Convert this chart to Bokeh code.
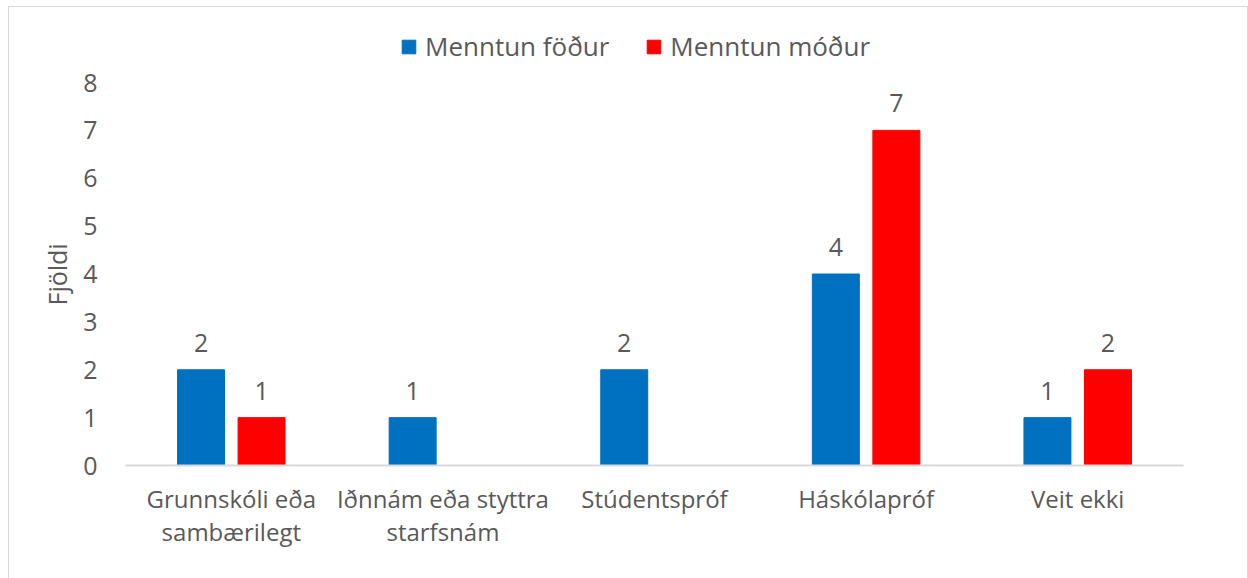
from bokeh.plotting import figure
from bokeh.models import ColumnDataSource, FactorRange, Legend, LegendItem, FixedTicker, Title
from bokeh.transform import dodge
from bokeh.core.properties import value
from bokeh.embed import file_html
from bokeh.resources import INLINE

categories = ["Grunnskóli eða\nsambærilegt", "Iðnnám eða styttra\nstarfsnám",
              "Stúdentspróf", "Háskólapróf", "Veit ekki"]
series_names = ["Menntun föður", "Menntun móður"]
father = [2, 1, 2, 4, 1]
mother = [1, None, None, 7, 2]
y_ticks = [0, 1, 2, 3, 4, 5, 6, 7, 8]
y_title = "Fjöldi"

BLUE = "#0070C0"
RED = "#FF0000"
TXT = "#595959"
FONT = "Open Sans"

# layout (pixels): frame extends above the top tick to hold the legend
PX_PER_UNIT = 47.875
EXTRA_TOP_PX = 62
y_end = 8 + EXTRA_TOP_PX / PX_PER_UNIT

p = figure(x_range=FactorRange(factors=categories, range_padding=0),
           y_range=(0, y_end), width=1238, height=571,
           output_backend="svg", toolbar_location=None,
           min_border_left=116, min_border_right=64,
           min_border_top=13, min_border_bottom=113)
p.styles = {"margin": "7px 0 0 9px", "box-shadow": "0 0 0 1px #D9D9D9"}

def nz(v):
    return float("nan") if v is None else v

src = ColumnDataSource(data=dict(cat=categories,
                                 father=[nz(v) for v in father],
                                 mother=[nz(v) for v in mother]))

off = 0.143
bw = 0.222
r1 = p.vbar(x=dodge("cat", -off, range=p.x_range), top="father", width=bw,
            source=src, fill_color=BLUE, line_color=BLUE)
r2 = p.vbar(x=dodge("cat", off, range=p.x_range), top="mother", width=bw,
            source=src, fill_color=RED, line_color=RED)

# value labels
lab_f = ColumnDataSource(data=dict(cat=[c for c, v in zip(categories, father) if v],
                                   y=[v for v in father if v],
                                   t=[str(v) for v in father if v]))
lab_m = ColumnDataSource(data=dict(cat=[c for c, v in zip(categories, mother) if v],
                                   y=[v for v in mother if v],
                                   t=[str(v) for v in mother if v]))
for s, o in ((lab_f, -off), (lab_m, off)):
    p.text(x=dodge("cat", o, range=p.x_range), y="y", text="t", source=s,
           text_font=value(FONT), text_font_size="25px", text_color=TXT,
           text_align="center", text_baseline="alphabetic", y_offset=-27)

p.xgrid.visible = False
p.ygrid.visible = False
p.outline_line_color = None

# y axis
p.yaxis.ticker = FixedTicker(ticks=y_ticks)
p.yaxis.axis_line_color = None
p.yaxis.major_tick_line_color = None
p.yaxis.minor_tick_line_color = None
p.yaxis.major_tick_out = 0
p.yaxis.major_tick_in = 0
p.yaxis.major_label_standoff = 28
p.yaxis.major_label_text_font = FONT
p.yaxis.major_label_text_font_size = "25px"
p.yaxis.major_label_text_color = TXT

# y axis title, placed along the 0..8 span (frame extends higher for the legend)
ytitle = Title(text=y_title, align="left", offset=160,
               text_font=FONT, text_font_size="25px", text_font_style="normal",
               text_color=TXT, standoff=14)
p.add_layout(ytitle, "left")

# x axis
p.xaxis.axis_line_color = "#D9D9D9"
p.xaxis.axis_line_width = 2
p.xaxis.major_tick_line_color = None
p.xaxis.major_tick_out = 0
p.xaxis.major_tick_in = 0
p.xaxis.major_label_standoff = 16
p.xaxis.major_label_text_font = FONT
p.xaxis.major_label_text_font_size = "24px"
p.xaxis.major_label_text_line_height = 1.0
p.xaxis.major_label_text_color = TXT

legend = Legend(items=[LegendItem(label=series_names[0], renderers=[r1]),
                       LegendItem(label=series_names[1], renderers=[r2])],
                orientation="horizontal", location=(275, 401),
                glyph_width=17, glyph_height=17, label_standoff=8, spacing=36,
                padding=0, margin=0,
                label_text_font=FONT, label_text_font_size="26px",
                label_text_color=TXT, border_line_color=None,
                background_fill_alpha=0)
p.add_layout(legend, "center")

open("out.html", "w").write(file_html(p, INLINE))
